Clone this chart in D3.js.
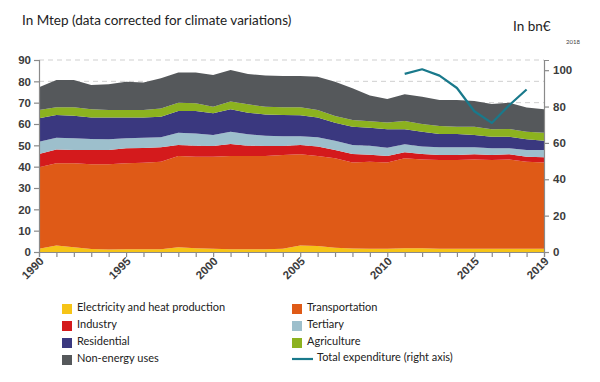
<!DOCTYPE html>
<html><head><meta charset="utf-8">
<script src="https://cdn.jsdelivr.net/npm/d3@7"></script>
<style>body{margin:0;background:#fff}svg{display:block}</style>
</head><body>
<svg id="c" width="600" height="382"></svg>
<script>
const years = d3.range(1990, 2020);
const electricity = [1.5,3.0,2.2,1.4,1.2,1.3,1.3,1.3,2.2,1.8,1.5,1.3,1.3,1.3,1.5,3.0,2.8,2.0,1.6,1.5,1.5,1.8,1.8,1.5,1.5,1.5,1.5,1.5,1.5,1.5];
const transportation = [38.2,38.6,39.4,39.7,39.9,40.3,40.5,41.0,42.8,42.9,43.2,43.7,43.7,43.7,44.0,42.8,42.2,41.9,40.4,40.8,40.4,42.1,41.6,41.6,41.6,41.9,41.6,41.9,40.8,40.5];
const industry = [6.2,6.5,6.2,6.7,6.7,7.0,7.0,6.8,5.2,5.1,5.0,5.6,4.8,4.7,4.2,4.4,4.4,3.9,3.9,3.3,3.1,2.8,2.5,2.4,2.4,2.4,2.4,2.4,2.4,2.4];
const tertiary = [5.8,5.5,5.5,5.2,5.0,4.7,4.7,4.7,5.7,5.8,5.1,5.8,5.4,4.8,4.6,4.1,4.4,4.4,4.3,4.2,3.9,3.8,3.5,3.6,3.6,3.3,3.1,2.8,3.1,3.4];
const residential = [11.0,10.6,10.6,10.0,10.2,9.7,9.5,9.6,10.2,10.5,10.2,10.5,10.1,10.0,9.9,9.8,9.2,8.4,8.5,8.5,8.6,7.0,7.0,6.2,6.2,5.7,5.4,5.4,5.0,4.4];
const agriculture = [3.9,3.6,3.9,3.9,3.6,3.6,3.6,3.9,3.9,3.6,3.1,3.6,3.9,3.6,3.6,3.7,3.6,3.2,3.2,3.0,3.2,3.9,3.6,3.8,3.4,3.9,3.5,3.7,3.6,3.7];
const nonEnergy = [10.6,12.8,12.8,11.4,12.0,13.2,12.9,14.1,14.1,14.4,14.9,14.8,14.2,14.6,14.7,14.7,15.6,16.0,14.8,12.1,11.0,12.6,12.8,12.2,12.6,12.1,11.9,12.3,11.3,11.0];
const expYears = [2011,2012,2013,2014,2015,2016,2017,2018];
const expenditure = [98,100.5,97,90.2,77.4,71,80.7,89.4];
const leftTicks = [0,10,20,30,40,50,60,70,80,90];
const rightTicks = [0,20,40,60,80,100];
const xLabels = [1990,1995,2000,2005,2010,2015,2019];

const seriesNames = ["Electricity and heat production","Transportation","Industry","Tertiary","Residential","Agriculture","Non-energy uses"];
const seriesVals = [electricity,transportation,industry,tertiary,residential,agriculture,nonEnergy];
const colors = ["#f6c417","#df5a17","#d41a1c","#9dbfcc","#3a387f","#8cb21f","#55585b"];
const lineColor = "#19798b";

const svg = d3.select("#c");
const x = d3.scaleLinear().domain([1990,2019]).range([39,544]);
const y = d3.scaleLinear().domain([0,90]).range([252,60]);
const yr = d3.scaleLinear().domain([0,105.6]).range([252,60]);

// gridlines
svg.append("g").selectAll("line").data(leftTicks.slice(1)).join("line")
  .attr("x1",39).attr("x2",544).attr("y1",d=>y(d)).attr("y2",d=>y(d))
  .attr("stroke","#cfcfcf").attr("stroke-dasharray","5,4").attr("stroke-width",1);

const table = years.map((yy,i)=>{const o={year:yy};seriesNames.forEach((n,k)=>o[n]=seriesVals[k][i]);return o;});
const stack = d3.stack().keys(seriesNames)(table);
const area = d3.area().x(d=>x(d.data.year)).y0(d=>y(d[0])).y1(d=>y(d[1]));
svg.append("g").selectAll("path").data(stack).join("path")
  .attr("d",area).attr("fill",(d,i)=>colors[i]);

// expenditure line
const line = d3.line().x((d,i)=>x(expYears[i])).y(d=>yr(d));
svg.append("path").attr("d",line(expenditure)).attr("fill","none")
  .attr("stroke",lineColor).attr("stroke-width",2.2).attr("stroke-linejoin","round");

const tickFont = "'Liberation Sans', Arial, sans-serif";
const gl = svg.append("g").attr("transform","translate(39,0)")
  .call(d3.axisLeft(y).tickValues(leftTicks).tickSize(5).tickPadding(3));
const gr = svg.append("g").attr("transform","translate(544,0)")
  .call(d3.axisRight(yr).tickValues(rightTicks).tickSize(5).tickPadding(4));
const gb = svg.append("g").attr("transform","translate(0,252)")
  .call(d3.axisBottom(x).tickValues(years).tickSize(5).tickFormat(d=>xLabels.includes(d)?String(d):""));
[gl,gr,gb].forEach(g=>{
  g.select(".domain").attr("stroke","#8a8a8a").attr("stroke-width",1.2);
  g.selectAll(".tick line").attr("stroke","#8a8a8a").attr("stroke-width",1.2);
  g.selectAll("text").attr("font-family",tickFont).attr("font-size",11.5).attr("font-weight","bold").attr("fill","#3c3c3c");
});
gb.selectAll(".tick text").attr("text-anchor","end").attr("dy",0).attr("y",0)
  .attr("transform","translate(5,10) rotate(-45)");

// titles
const txtFont = "Lato, 'Open Sans', sans-serif";
svg.append("text").attr("x",22).attr("y",25).text("In Mtep (data corrected for climate variations)")
  .attr("font-family",txtFont).attr("font-size",13.5).attr("fill","#222");
svg.append("text").attr("x",513).attr("y",31).text("In bn€")
  .attr("font-family",txtFont).attr("font-size",13.5).attr("fill","#222");
svg.append("text").attr("x",566).attr("y",44).text("2018")
  .attr("font-family",txtFont).attr("font-size",6).attr("fill","#444");

// legend
const legend = [
  {n:seriesNames[0],c:colors[0],x:62,y:307},
  {n:seriesNames[2],c:colors[2],x:62,y:324},
  {n:seriesNames[4],c:colors[4],x:62,y:341},
  {n:seriesNames[6],c:colors[6],x:62,y:358},
  {n:seriesNames[1],c:colors[1],x:292,y:307},
  {n:seriesNames[3],c:colors[3],x:292,y:324},
  {n:seriesNames[5],c:colors[5],x:292,y:341}
];
const lg = svg.append("g");
legend.forEach(l=>{
  lg.append("rect").attr("x",l.x).attr("y",l.y-3).attr("width",10).attr("height",10).attr("fill",l.c);
  lg.append("text").attr("x",l.x+15).attr("y",l.y).attr("dy","0.35em").text(l.n)
    .attr("font-family",txtFont).attr("font-size",11).attr("fill","#222");
});
lg.append("line").attr("x1",292).attr("x2",313).attr("y1",359).attr("y2",359).attr("stroke",lineColor).attr("stroke-width",2.2);
lg.append("text").attr("x",317).attr("y",357).attr("dy","0.35em").text("Total expenditure (right axis)")
  .attr("font-family",txtFont).attr("font-size",11).attr("fill","#222");
</script>
</body></html>
